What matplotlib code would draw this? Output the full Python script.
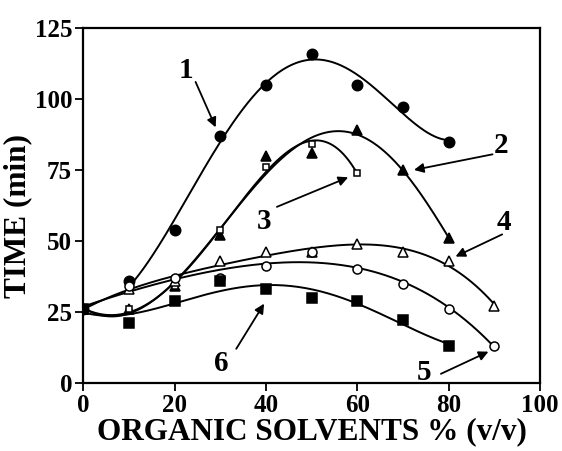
"""Retention time vs organic solvent content, six solvent series."""

import matplotlib

matplotlib.use("Agg")

import matplotlib.pyplot as plt
import numpy as np

plt.rcParams["font.family"] = ["Liberation Serif", "DejaVu Serif"]
plt.rcParams["font.weight"] = "bold"

# series 1: filled circles
x1 = [0, 10, 20, 30, 40, 50, 60, 70, 80]
y1 = [26, 36, 54, 87, 105, 116, 105, 97, 85]
# series 2: filled triangles
x2 = [0, 10, 20, 30, 40, 50, 60, 70, 80]
y2 = [26, 26, 34, 52, 80, 81, 89, 75, 51]
# series 3: open squares
x3 = [0, 10, 20, 30, 40, 50, 60]
y3 = [26, 26, 34, 54, 76, 84, 74]
# series 4: open triangles
x4 = [0, 10, 20, 30, 40, 50, 60, 70, 80, 90]
y4 = [26, 33, 36, 43, 46, 46, 49, 46, 43, 27]
# series 5: open circles
x5 = [0, 10, 20, 30, 40, 50, 60, 70, 80, 90]
y5 = [26, 34, 37, 37, 41, 46, 40, 35, 26, 13]
# series 6: filled squares
x6 = [0, 10, 20, 30, 40, 50, 60, 70, 80]
y6 = [26, 21, 29, 36, 33, 30, 29, 22, 13]

x_ticks = [0, 20, 40, 60, 80, 100]
y_ticks = [0, 25, 50, 75, 100, 125]

# (label, text position, arrow tail, arrow head)
callouts = [
    ("1", (22.5, 110), (24.6, 106), (29.0, 90.0)),
    ("2", (91.5, 83.5), (89.6, 80.5), (72.4, 75.0)),
    ("3", (39.5, 57.0), (42.4, 62.0), (58.0, 72.4)),
    ("4", (92.0, 56.5), (91.7, 52.3), (81.5, 44.5)),
    ("5", (74.6, 3.5), (78.3, 3.2), (88.7, 11.0)),
    ("6", (30.2, 7.0), (33.5, 12.0), (39.6, 27.9)),
]


def smooth(x, y, deg, x_start=None):
    lo = x[0] if x_start is None else x_start
    xs = np.linspace(lo, x[-1], 200)
    coef = np.polyfit(x, y, deg)
    return xs, np.polyval(coef, xs)


fig = plt.figure(figsize=(5.62, 4.51), dpi=100)
ax = fig.add_axes([0.148, 0.151, 0.813, 0.787])

series = [
    (x1, y1, 5, dict(marker="o", mfc="black", ms=7.5), 10),
    (x2, y2, 5, dict(marker="^", mfc="black", ms=7.5), None),
    (x3, y3, 4, dict(marker="s", mfc="white", ms=5), None),
    (x4, y4, 4, dict(marker="^", mfc="white", ms=6.5), None),
    (x5, y5, 4, dict(marker="o", mfc="white", ms=6.5), None),
    (x6, y6, 4, dict(marker="s", mfc="black", ms=6.5), None),
]
for x, y, deg, mstyle, x_start in series:
    xs, ys = smooth(x, y, deg, x_start)
    ax.plot(xs, ys, color="black", linewidth=1.4, zorder=2)
    ax.plot(x, y, linestyle="none", mec="black", mew=1.1, zorder=3, **mstyle)

for label, text_pos, tail, head in callouts:
    ax.text(text_pos[0], text_pos[1], label, fontsize=21, fontweight="bold",
            ha="center", va="center")
    ax.annotate("", xy=head, xytext=tail,
                arrowprops=dict(arrowstyle="-|>", color="black", lw=1.3,
                                mutation_scale=14, shrinkA=0, shrinkB=0))

ax.set_xlim(0, 100)
ax.set_ylim(0, 125)
ax.set_xticks(x_ticks)
ax.set_yticks(y_ticks)
ax.tick_params(direction="out", length=6, width=1.3, labelsize=18, pad=2,
               top=False, right=False)
for lbl in ax.get_xticklabels() + ax.get_yticklabels():
    lbl.set_fontweight("bold")
for spine in ax.spines.values():
    spine.set_linewidth(1.6)

ax.set_xlabel("ORGANIC SOLVENTS % (v/v)", fontsize=22.5, fontweight="bold",
              labelpad=0)
ax.set_ylabel("TIME (min)", fontsize=22.5, fontweight="bold")
ax.yaxis.set_label_coords(-0.112, 0.47)

fig.savefig("out.png", dpi=100)
